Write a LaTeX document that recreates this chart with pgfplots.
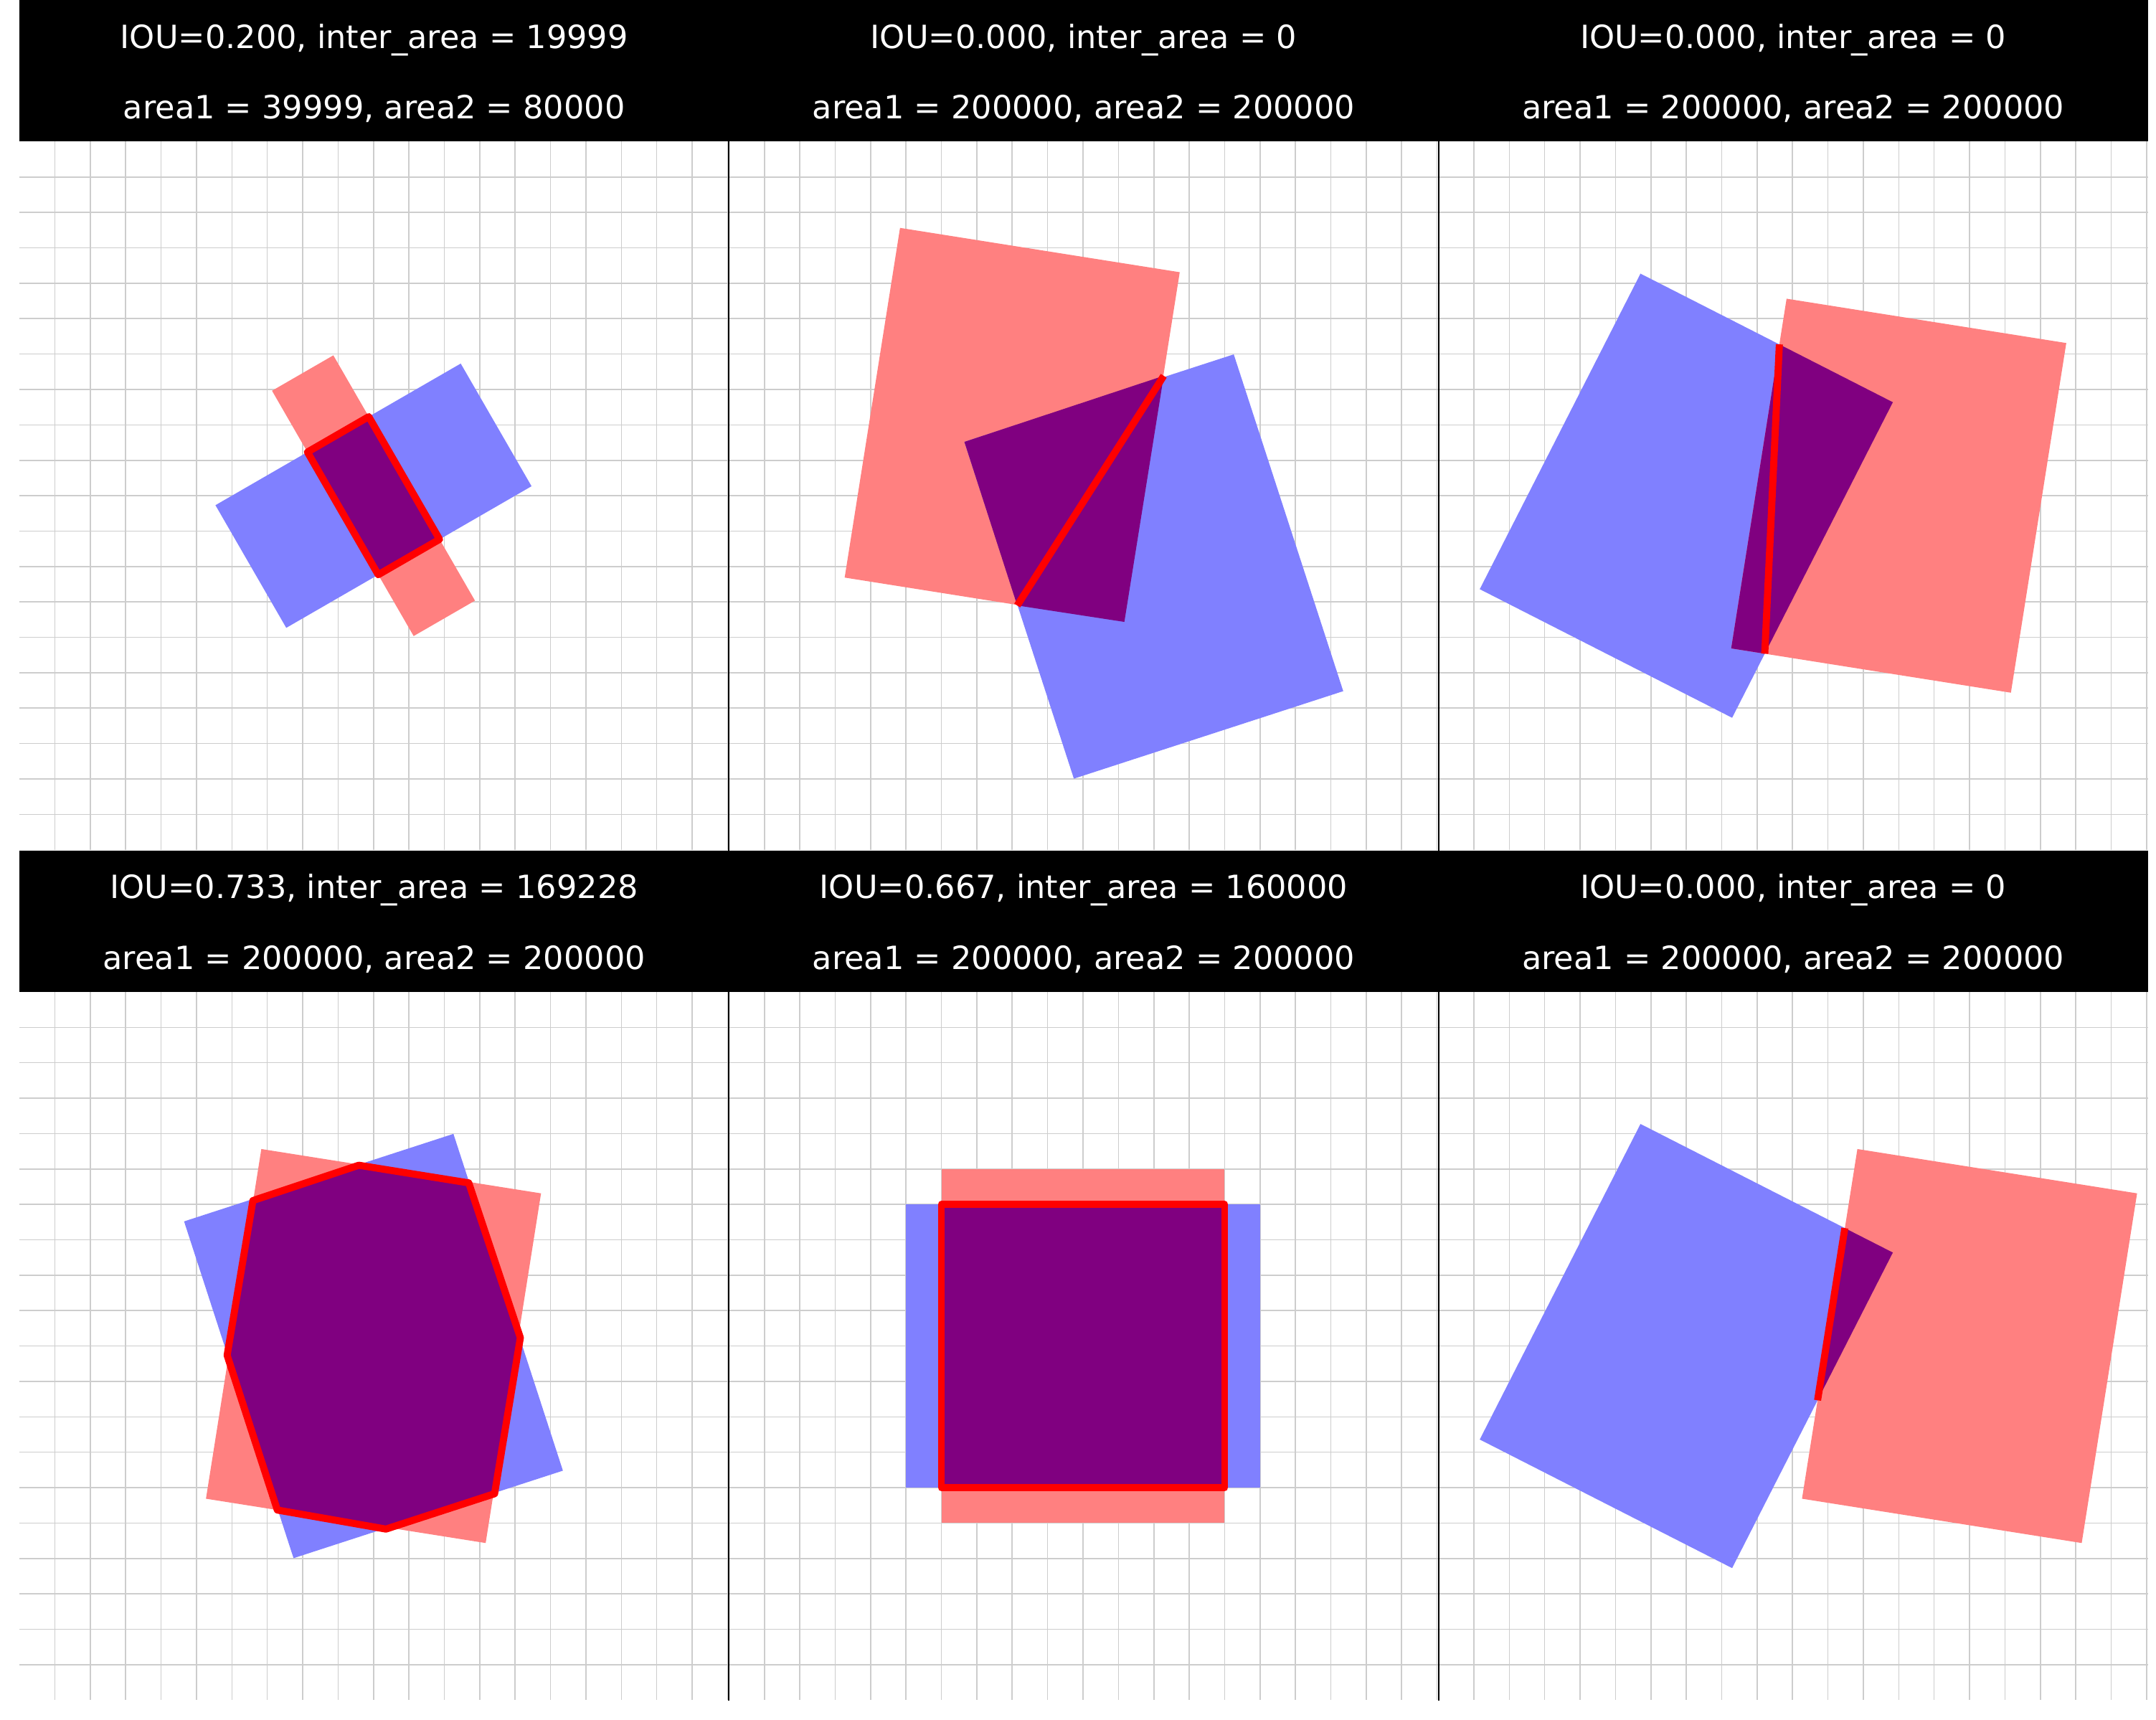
\documentclass[border=0pt]{standalone}
\usepackage{pgfplots}
\pgfplotsset{compat=1.18}
\usepackage{fontspec}
\setmainfont{DejaVu Sans}
\definecolor{rf}{RGB}{255,128,128}
\definecolor{bf}{RGB}{128,128,255}
\definecolor{pf}{RGB}{128,0,128}
\definecolor{gl}{RGB}{205,205,205}
\pgfplotsset{panel/.style={width=250.5pt,height=250pt,scale only axis,
 xmin=0,xmax=1002,ymin=0,ymax=1000,y dir=reverse,
 xtick={50,100,...,1000},ytick={50,100,...,950},xticklabels={},yticklabels={},
 grid=major,major grid style={gl,line width=0.4pt},
 axis line style={draw=none},tick style={draw=none},anchor=north west}}
\newcommand{\hdr}[4]{%
 \fill[black] (#1*250.5pt,-#2*300.2pt) rectangle ++(250.5pt,-50pt);
 \node[white,anchor=base,font=\fontsize{11.3}{13}\selectfont] at (#1*250.5pt+125.25pt,-#2*300.2pt-17pt) {#3};
 \node[white,anchor=base,font=\fontsize{11.3}{13}\selectfont] at (#1*250.5pt+125.25pt,-#2*300.2pt-42pt) {#4};}
\begin{document}
\begin{tikzpicture}
\hdr{0}{0}{IOU=0.200, inter\_area = 19999}{area1 = 39999, area2 = 80000}
\hdr{1}{0}{IOU=0.000, inter\_area = 0}{area1 = 200000, area2 = 200000}
\hdr{2}{0}{IOU=0.000, inter\_area = 0}{area1 = 200000, area2 = 200000}
\hdr{0}{1}{IOU=0.733, inter\_area = 169228}{area1 = 200000, area2 = 200000}
\hdr{1}{1}{IOU=0.667, inter\_area = 160000}{area1 = 200000, area2 = 200000}
\hdr{2}{1}{IOU=0.000, inter\_area = 0}{area1 = 200000, area2 = 200000}
% panel 1
\begin{axis}[panel,at={(0pt,-50pt)}]
\addplot[draw=none,fill=rf] coordinates {(443.3,301.8)(356.7,351.8)(556.7,698.2)(643.3,648.2)} -- cycle;
\addplot[draw=none,fill=bf] coordinates {(276.8,513.4)(623.2,313.4)(723.2,486.6)(376.8,686.6)} -- cycle;
\addplot[fill=pf,draw=red,line width=2.5pt,line join=round] coordinates {(493.3,388.4)(406.7,438.4)(506.7,611.6)(593.3,561.6)} -- cycle;
\end{axis}
% panel 2
\begin{axis}[panel,at={(250.5pt,-50pt)}]
\addplot[draw=none,fill=rf] coordinates {(241.6,121.8)(636.6,184.4)(558.4,678.2)(163.4,615.6)} -- cycle;
\addplot[draw=none,fill=bf] coordinates {(332.5,424)(712.9,300.4)(867.5,776)(487.1,899.6)} -- cycle;
\addplot[draw=none,fill=pf] coordinates {(332.5,424)(614,330.7)(558.4,678.2)(407.1,655)} -- cycle;
\addplot[draw=red,line width=2.5pt] coordinates {(407.1,655)(614,330.7)};
\end{axis}
% panel 3
\begin{axis}[panel,at={(501pt,-50pt)}]
\addplot[draw=none,fill=bf] coordinates {(285.3,186.4)(641.7,368)(414.7,813.6)(58.3,632)} -- cycle;
\addplot[draw=none,fill=rf] coordinates {(491.6,221.8)(886.6,284.4)(808.4,778.2)(413.4,715.6)} -- cycle;
\addplot[draw=none,fill=pf] coordinates {(481.4,286.3)(641.7,368)(460.8,723.1)(413.4,715.6)} -- cycle;
\addplot[draw=red,line width=2.5pt] coordinates {(481.4,286.3)(460.8,723.1)};
\end{axis}
% panel 4
\begin{axis}[panel,at={(0pt,-350.2pt)}]
\addplot[draw=none,fill=bf] coordinates {(232.5,324)(612.9,200.4)(767.5,676)(387.1,799.6)} -- cycle;
\addplot[draw=none,fill=rf] coordinates {(341.6,221.8)(736.6,284.4)(658.4,778.2)(263.4,715.6)} -- cycle;
\addplot[fill=pf,draw=red,line width=2.5pt,line join=round] coordinates {(329.7,294.6)(479.3,244.7)(634.5,269.6)(707.4,488.2)(671,708.6)(517.6,758.5)(364.2,731.6)(293.3,513.1)} -- cycle;
\end{axis}
% panel 5
\begin{axis}[panel,at={(250.5pt,-350.2pt)}]
\addplot[draw=none,fill=rf] coordinates {(300,250)(700,250)(700,750)(300,750)} -- cycle;
\addplot[draw=none,fill=bf] coordinates {(250,300)(750,300)(750,700)(250,700)} -- cycle;
\addplot[fill=pf,draw=red,line width=2.5pt,line join=round] coordinates {(300,300)(700,300)(700,700)(300,700)} -- cycle;
\end{axis}
% panel 6
\begin{axis}[panel,at={(501pt,-350.2pt)}]
\addplot[draw=none,fill=bf] coordinates {(285.3,186.4)(641.7,368)(414.7,813.6)(58.3,632)} -- cycle;
\addplot[draw=none,fill=rf] coordinates {(591.6,221.8)(986.6,284.4)(908.4,778.2)(513.4,715.6)} -- cycle;
\addplot[draw=none,fill=pf] coordinates {(573.9,333.5)(641.7,368)(535.4,576.6)} -- cycle;
\addplot[draw=red,line width=2.5pt] coordinates {(573.9,333.5)(535.4,576.6)};
\end{axis}
\draw[black,line width=0.5pt] (250.5pt,-50pt) -- (250.5pt,-300.2pt) (501pt,-50pt) -- (501pt,-300.2pt)
 (250.5pt,-350.2pt) -- (250.5pt,-600.4pt) (501pt,-350.2pt) -- (501pt,-600.4pt);
\end{tikzpicture}
\end{document}
